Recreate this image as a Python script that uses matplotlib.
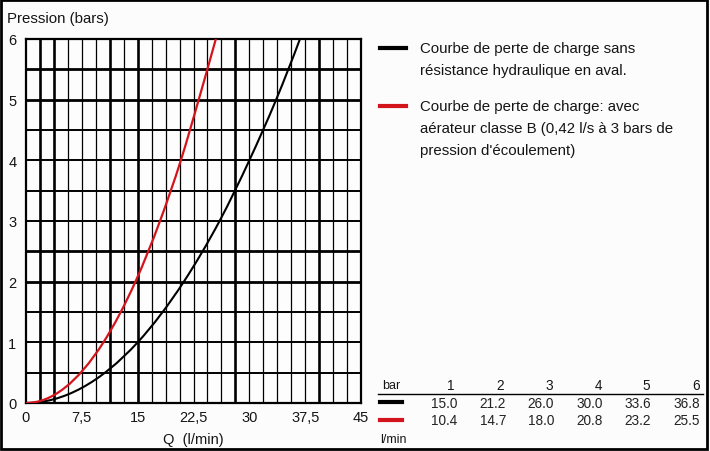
import numpy as np
import matplotlib
matplotlib.use("Agg")
import matplotlib.pyplot as plt
from matplotlib.path import Path
from matplotlib.patches import PathPatch, Rectangle
from matplotlib.lines import Line2D

plt.rcParams['font.family'] = ['Liberation Sans', 'DejaVu Sans']

# Pressure (bar) and matching flow rates (l/min)
pressure_bar = [0, 1, 2, 3, 4, 5, 6]
flow_free = [0, 15.0, 21.2, 26.0, 30.0, 33.6, 36.8]       # no downstream resistance
flow_aerator = [0, 10.4, 14.7, 18.0, 20.8, 23.2, 25.5]    # class B aerator

x_ticks = [0, 7.5, 15, 22.5, 30, 37.5, 45]
x_tick_labels = ["0", "7,5", "15", "22,5", "30", "37,5", "45"]
y_ticks = [0, 1, 2, 3, 4, 5, 6]

legend_free = ["Courbe de perte de charge sans",
               "résistance hydraulique en aval."]
legend_aerator = ["Courbe de perte de charge: avec",
                  "aérateur classe B (0,42 l/s à 3 bars de",
                  "pression d'écoulement)"]

BLACK = "#000000"
RED = "#d4141c"
TEXT = "#151515"


def knot_slopes(s, v):
    """Three-point derivative estimates on a non-uniform knot grid."""
    n = len(s)
    h = np.diff(s)
    d = np.diff(v) / h
    m = np.zeros(n)
    for i in range(1, n - 1):
        m[i] = (h[i] * d[i - 1] + h[i - 1] * d[i]) / (h[i - 1] + h[i])
    m[0] = ((2 * h[0] + h[1]) * d[0] - h[0] * d[1]) / (h[0] + h[1])
    m[-1] = ((2 * h[-1] + h[-2]) * d[-1] - h[-1] * d[-2]) / (h[-1] + h[-2])
    return m


def smooth_path(q, p):
    """Cubic Hermite path through the points, parametrised by sqrt(pressure)."""
    q = np.asarray(q, float)
    p = np.asarray(p, float)
    s = np.sqrt(p)
    tq = knot_slopes(s, q)
    tp = knot_slopes(s, p)
    verts = [(q[0], p[0])]
    codes = [Path.MOVETO]
    for i in range(len(q) - 1):
        h = (s[i + 1] - s[i]) / 3.0
        verts += [(q[i] + tq[i] * h, p[i] + tp[i] * h),
                  (q[i + 1] - tq[i + 1] * h, p[i + 1] - tp[i + 1] * h),
                  (q[i + 1], p[i + 1])]
        codes += [Path.CURVE4] * 3
    return Path(verts, codes)


W, H = 710, 452
fig = plt.figure(figsize=(W / 100, H / 100), dpi=100)
fig.patch.set_facecolor("#fcfcfc")


def fx(px):
    return px / W


def fy(py):
    return 1 - py / H


# plot area in pixel coordinates
px_l, px_r, px_t, px_b = 26, 361, 40, 404
ax = fig.add_axes([fx(px_l), fy(px_b), (px_r - px_l) / W, (px_b - px_t) / H])
ax.set_facecolor("#fdfdfd")
ax.set_xlim(0, 45)
ax.set_ylim(0, 6)

# grid: vertical every 1.875 l/min, horizontal every 0.5 bar
thick_v = {1, 2, 6, 8, 15, 21}
for i in range(1, 24):
    ax.axvline(i * 1.875, color=BLACK, lw=1.9 if i in thick_v else 0.9, zorder=1)
thick_h = {4, 5, 10, 11}
for j in range(1, 12):
    ax.axhline(j * 0.5, color=BLACK, lw=2.0 if j in thick_h else 1.4, zorder=1)
for sp in ax.spines.values():
    sp.set_linewidth(1.6)
    sp.set_color(BLACK)

ax.add_patch(PathPatch(smooth_path(flow_free, pressure_bar), fill=False,
                       edgecolor=BLACK, lw=1.5, zorder=3, capstyle="round"))
ax.add_patch(PathPatch(smooth_path(flow_aerator, pressure_bar), fill=False,
                       edgecolor=RED, lw=1.6, zorder=3, capstyle="round"))

ax.set_xticks(x_ticks)
ax.set_xticklabels(x_tick_labels)
ax.set_yticks(y_ticks)
ax.tick_params(length=0, labelsize=10.5, colors=TEXT)
ax.tick_params(axis="x", pad=5)
ax.tick_params(axis="y", pad=7)
ax.set_xlabel("Q  (l/min)", fontsize=10.5, labelpad=6, color=TEXT)

fig.text(fx(7), fy(19), "Pression (bars)", fontsize=10.8, va="center", ha="left", color=TEXT)

# legend
fig.add_artist(Line2D([fx(380), fx(406)], [fy(49)] * 2, color=BLACK, lw=3))
fig.add_artist(Line2D([fx(380), fx(406)], [fy(107)] * 2, color=RED, lw=3))
for k, line in enumerate(legend_free):
    fig.text(fx(420), fy(49 + 22 * k), line, fontsize=10.8, va="center", ha="left", color=TEXT)
for k, line in enumerate(legend_aerator):
    fig.text(fx(420), fy(107 + 22 * k), line, fontsize=10.8, va="center", ha="left", color=TEXT)

# value table
col_right = [454, 504, 553, 602, 650, 700]
fig.text(fx(382), fy(386), "bar", fontsize=9, va="center", ha="left", color=TEXT)
for x, p in zip(col_right, pressure_bar[1:]):
    fig.text(fx(x), fy(386), str(p), fontsize=9.8, va="center", ha="right", color=TEXT)
fig.add_artist(Line2D([fx(378), fx(703)], [fy(395)] * 2, color=BLACK, lw=1.0))
fig.add_artist(Line2D([fx(380), fx(402)], [fy(403)] * 2, color=BLACK, lw=3))
fig.add_artist(Line2D([fx(380), fx(402)], [fy(421)] * 2, color=RED, lw=3))
val_x = [457, 506, 554, 603, 651, 700]
for x, v in zip(val_x, flow_free[1:]):
    fig.text(fx(x), fy(404), f"{v:.1f}", fontsize=9.8, va="center", ha="right", color="#222222")
for x, v in zip(val_x, flow_aerator[1:]):
    fig.text(fx(x), fy(421), f"{v:.1f}", fontsize=9.8, va="center", ha="right", color="#222222")
fig.text(fx(380), fy(440), "l/min", fontsize=9, va="center", ha="left", color=TEXT)

# outer frame
fig.add_artist(Rectangle((fx(1), fy(450)), 706 / W, 449 / H, transform=fig.transFigure,
                         fill=False, edgecolor=BLACK, lw=2))

fig.savefig("out.png", dpi=100, facecolor=fig.get_facecolor())
